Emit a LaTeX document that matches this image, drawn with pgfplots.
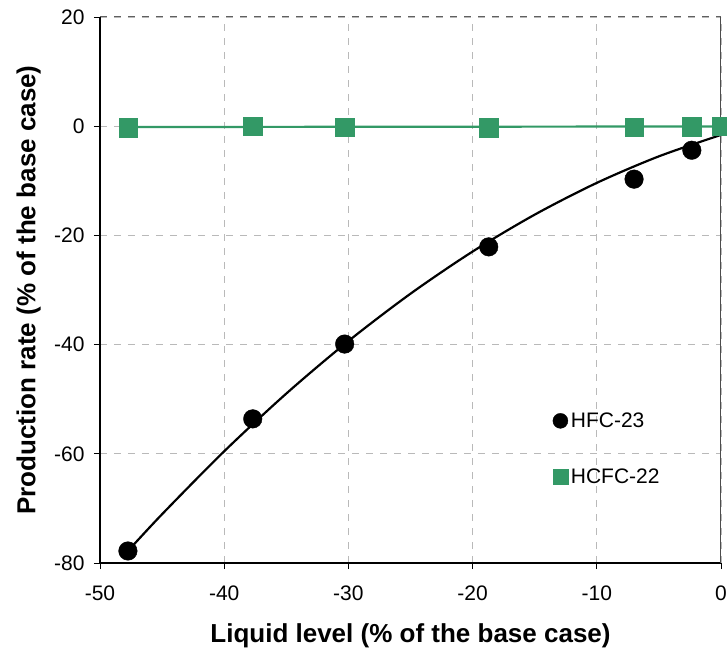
\documentclass[border=0pt]{standalone}
\usepackage{pgfplots}
\pgfplotsset{compat=1.18}
\usepackage{fontspec}
\setmainfont{Liberation Sans}
\definecolor{seagreen}{RGB}{51,153,102}
\begin{document}
\begin{tikzpicture}
\begin{axis}[
  at={(0,0)}, anchor=south west,
  scale only axis, width=621bp, height=546bp,
  xmin=-50, xmax=0, ymin=-80, ymax=20,
  axis x line*=bottom, axis y line*=left,
  axis line style={black, line width=1.3bp, -},
  xtick={-50,-40,-30,-20,-10,0},
  xticklabels={-50,-40,-30,-20,-10,0},
  ytick={-80,-60,-40,-20,0,20},
  yticklabels={-80,-60,-40,-20,0,20},
  tick align=outside, major tick length=6bp,
  tick style={black, line width=0.8bp},
  ticklabel style={font=\fontsize{21bp}{25bp}\selectfont},
  xticklabel style={yshift=-13bp},
  yticklabel style={xshift=-6bp},
  xmajorgrids, ymajorgrids,
  grid style={gray!55, line width=0.9bp, dash pattern=on 7bp off 7bp},
  every axis x label/.style={at={(axis description cs:0.5,-0.1465)}, anchor=base},
  every axis y label/.style={at={(axis description cs:-0.1040,0.5)}, anchor=base, rotate=90},
  label style={font=\fontsize{26bp}{31bp}\selectfont\bfseries},
  xlabel={Liquid level (\% of the base case)},
  ylabel={Production rate (\% of the base case)},
  clip=false,
  legend image code/.code={\draw[#1, mark size=7.5bp] plot coordinates {(0bp,0bp)};},
  legend style={at={(axis description cs:0.729,0.281)}, anchor=north west,
    draw=none, fill=none, inner sep=0pt,
    font=\fontsize{21bp}{25bp}\selectfont,
    row sep=34bp, nodes={inner sep=3bp}},
  legend cell align=left,
]
% trend line HFC-23
\addplot[black, line width=2.2bp, smooth, forget plot] coordinates {
  (-47.75,-77.8) (-45,-71.06) (-40,-59.54) (-35,-48.97) (-30,-39.35)
  (-25,-30.68) (-20,-22.96) (-15,-16.2) (-10,-10.38) (-5,-5.52) (0,-1.6)};
% trend line HCFC-22
\addplot[seagreen, line width=2.2bp, forget plot] coordinates {
  (-47.75,-0.15) (0,-0.05)};
\addplot[only marks, mark=*, mark size=9.3bp, black] coordinates {
  (-47.75,-77.8) (-37.7,-53.6) (-30.3,-39.9) (-18.7,-22.1) (-7.0,-9.7) (-2.35,-4.4)};
\addlegendentry{HFC-23}
\addplot[only marks, mark=square*, mark size=9.2bp, seagreen, mark options={draw=seagreen, fill=seagreen}] coordinates {
  (-47.75,-0.3) (-37.7,0.05) (-30.3,-0.2) (-18.7,-0.3) (-7.0,-0.2) (-2.35,-0.1) (0,0)};
\addlegendentry{HCFC-22}
\draw[gray!75!black, line width=1bp, dash pattern=on 7bp off 7bp] (axis cs:-50,20) -- (axis cs:0,20);
\draw[gray!60!black, line width=1bp] (axis cs:0,-80) -- (axis cs:0,20);
\end{axis}
\pgfresetboundingbox
\path (-100bp,-89bp) rectangle (627bp,563bp);
\end{tikzpicture}
\end{document}
